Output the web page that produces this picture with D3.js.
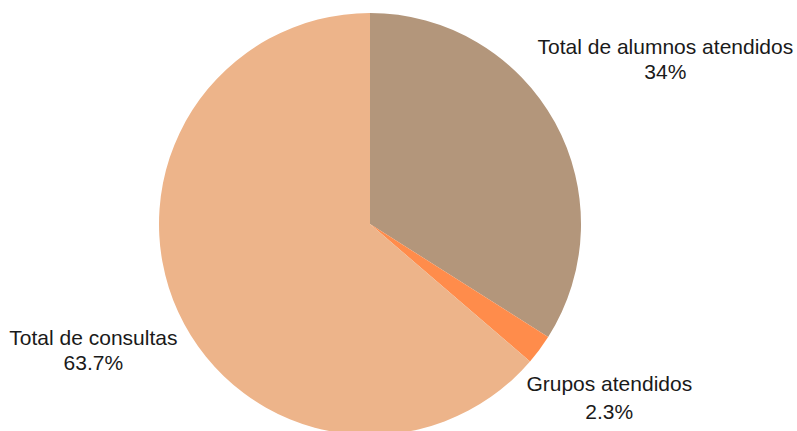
<!DOCTYPE html>
<html>
<head>
<meta charset="utf-8">
<script src="https://cdn.jsdelivr.net/npm/d3@7"></script>
<style>
  body { margin: 0; background: #fff; }
  text { font-family: "Liberation Sans", Arial, sans-serif; font-size: 21px; fill: #1a1a1a; }
</style>
</head>
<body>
<div id="chart"></div>
<script>
var categories = ["Total de alumnos atendidos", "Grupos atendidos", "Total de consultas"];
var values = [34, 2.3, 63.7];
var pctLabels = ["34%", "2.3%", "63.7%"];
var colors = ["#b3967b", "#ff8c4b", "#edb48a"];

var width = 797, height = 431;
var cx = 370, cy = 224, radius = 211;

// small nudges so labels sit where the original renderer put them
var nudge = [[18, -18], [-15, -21], [11, -11]];
var lineGap = [25, 28, 25];

var svg = d3.select("#chart").append("svg")
    .attr("width", width).attr("height", height);

var g = svg.append("g").attr("transform", "translate(" + cx + "," + cy + ")");

var pie = d3.pie().sort(null).value(function(d){ return d; });
var arcs = pie(values);

var arc = d3.arc().innerRadius(0).outerRadius(radius);

g.selectAll("path.slice")
    .data(arcs)
    .enter().append("path")
    .attr("class", "slice")
    .attr("d", arc)
    .attr("fill", function(d, i){ return colors[i]; });

var labelR = radius * 1.5;
var lab = g.selectAll("text.lab")
    .data(arcs)
    .enter().append("text")
    .attr("class", "lab")
    .attr("text-anchor", "middle")
    .attr("transform", function(d, i){
        var a = (d.startAngle + d.endAngle) / 2;
        var x = labelR * Math.sin(a) + nudge[i][0];
        var y = -labelR * Math.cos(a) + nudge[i][1];
        return "translate(" + x + "," + y + ")";
    });

lab.append("tspan").attr("x", 0).attr("y", 0)
    .text(function(d, i){ return categories[i]; });
lab.append("tspan").attr("x", 0).attr("y", function(d, i){ return lineGap[i]; })
    .text(function(d, i){ return pctLabels[i]; });
</script>
</body>
</html>
